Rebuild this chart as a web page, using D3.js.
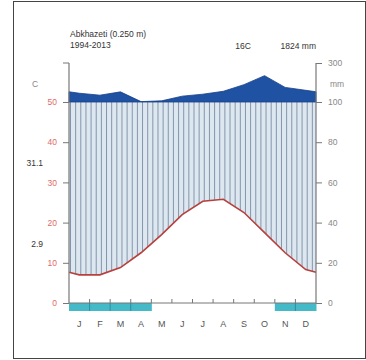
<!DOCTYPE html>
<html>
<head>
<meta charset="utf-8">
<script src="https://cdn.jsdelivr.net/npm/d3@7"></script>
<style>
  body { margin: 0; background: #fff; }
  svg { display: block; font-family: "Liberation Sans", Arial, sans-serif; }
</style>
</head>
<body>
<div id="chart"></div>
<script>
// climate diagram data (Walter-Lieth style)
var months = ['J', 'F', 'M', 'A', 'M', 'J', 'J', 'A', 'S', 'O', 'N', 'D'];
var temperature = [7.0, 7.0, 8.8, 12.5, 17, 22, 25.3, 25.8, 22.5, 17.5, 12.5, 8.3];
var precipitation = [145, 135, 152, 102, 106, 130, 140, 155, 189, 235, 175, 160];
var frost = [1, 1, 1, 1, 0, 0, 0, 0, 0, 0, 1, 1];
var tempTicks = [0, 10, 20, 30, 40, 50];
var precTicks = [0, 20, 40, 60, 80, 100, 300];
var station = 'Abkhazeti (0.250 m)';
var period = '1994-2013';
var meanTemp = '16C';
var totalPrec = '1824 mm';
var maxLabel = '31.1';
var minLabel = '2.9';

var width = 366, height = 360;
var plotL = 69, plotR = 316, plotT = 63, plotB = 303;

var svg = d3.select('#chart').append('svg')
  .attr('width', width)
  .attr('height', height);

// outer frame
svg.append('rect')
  .attr('x', 13.5).attr('y', 1.5)
  .attr('width', 352).attr('height', 357)
  .attr('fill', 'none').attr('stroke', '#444').attr('stroke-width', 1);

var x = d3.scaleLinear().domain([0, 12]).range([plotL, plotR]);
var yT = d3.scaleLinear().domain([0, 50]).range([plotB, 102]);
var yP = d3.scaleLinear().domain([0, 100, 300]).range([plotB, 102, plotT]);

// points at month centres, plus the two edges (mean of Dec/Jan)
var pts = months.map(function(m, i) {
  return { x: i + 0.5, t: temperature[i], p: precipitation[i] };
});
var edgeT = (temperature[0] + temperature[11]) / 2;
var edgeP = (precipitation[0] + precipitation[11]) / 2;
pts.unshift({ x: 0, t: edgeT, p: edgeP });
pts.push({ x: 12, t: edgeT, p: edgeP });

// humid period: between temperature and precipitation (capped at 100 mm)
var humid = d3.area()
  .x(function(d) { return x(d.x); })
  .y0(function(d) { return yT(d.t); })
  .y1(function(d) { return yP(Math.min(d.p, 100)); });

svg.append('clipPath').attr('id', 'humid')
  .append('path').attr('d', humid(pts));

var hatch = svg.append('g').attr('clip-path', 'url(#humid)');
hatch.append('rect')
  .attr('x', plotL).attr('y', plotT)
  .attr('width', plotR - plotL).attr('height', plotB - plotT)
  .attr('fill', '#dde7f0');
hatch.selectAll('line')
  .data(d3.range(0, 12, 0.25))
  .enter().append('line')
  .attr('x1', function(d) { return x(d) + 1.5; })
  .attr('x2', function(d) { return x(d) + 1.5; })
  .attr('y1', plotT).attr('y2', plotB)
  .attr('stroke', '#8495ab').attr('stroke-width', 1);

// precipitation above 100 mm
var wet = d3.area()
  .x(function(d) { return x(d.x); })
  .y0(yP(100))
  .y1(function(d) { return yP(Math.max(d.p, 100)); });

svg.append('path')
  .attr('d', wet(pts))
  .attr('fill', '#1f52a3')
  .attr('stroke', '#173f85').attr('stroke-width', 0.8);

// temperature line
var tline = d3.line()
  .x(function(d) { return x(d.x); })
  .y(function(d) { return yT(d.t); });

svg.append('path')
  .attr('d', tline(pts))
  .attr('fill', 'none')
  .attr('stroke', '#b8403c').attr('stroke-width', 1.6);

// frost bars under the axis
svg.selectAll('.frost')
  .data(frost.map(function(f, i) { return { f: f, i: i }; }).filter(function(d) { return d.f; }))
  .enter().append('rect')
  .attr('class', 'frost')
  .attr('x', function(d) { return x(d.i); })
  .attr('y', plotB)
  .attr('width', x(1) - x(0) + 0.5)
  .attr('height', 8)
  .attr('fill', '#44b9c8');

// axes
var axisCol = '#777';
var leftAxis = svg.append('g')
  .attr('transform', 'translate(' + plotL + ',0)')
  .call(d3.axisLeft(yT).tickValues(tempTicks).tickSize(6).tickPadding(6));
leftAxis.select('.domain').remove();
leftAxis.selectAll('line').attr('stroke', axisCol);
leftAxis.selectAll('text').attr('fill', '#e06a6a').attr('font-size', 8.5);

var rightAxis = svg.append('g')
  .attr('transform', 'translate(' + plotR + ',0)')
  .call(d3.axisRight(yP).tickValues(precTicks).tickSize(6).tickPadding(6));
rightAxis.select('.domain').remove();
rightAxis.selectAll('line').attr('stroke', axisCol);
rightAxis.selectAll('text').attr('fill', '#888').attr('font-size', 8.5);

svg.append('line')
  .attr('x1', plotL).attr('x2', plotL).attr('y1', plotT).attr('y2', plotB)
  .attr('stroke', axisCol).attr('stroke-width', 1.2);
svg.append('line')
  .attr('x1', plotL - 6).attr('x2', plotL).attr('y1', plotT).attr('y2', plotT)
  .attr('stroke', axisCol);
svg.append('line')
  .attr('x1', plotR).attr('x2', plotR).attr('y1', plotT).attr('y2', plotB)
  .attr('stroke', axisCol).attr('stroke-width', 1.2);
svg.append('line')
  .attr('x1', plotL).attr('x2', plotR).attr('y1', plotB).attr('y2', plotB)
  .attr('stroke', axisCol).attr('stroke-width', 1);

// month boundary ticks (darker inside frost bars)
svg.selectAll('.mtick')
  .data(d3.range(1, 12).filter(function(d) { return frost[d] && frost[d - 1]; }))
  .enter().append('line')
  .attr('class', 'mtick')
  .attr('x1', function(d) { return x(d); })
  .attr('x2', function(d) { return x(d); })
  .attr('y1', plotB).attr('y2', plotB + 8)
  .attr('stroke', '#2f7f8f').attr('stroke-opacity', 0.8);
svg.selectAll('.mtick2')
  .data(d3.range(1, 12))
  .enter().append('line')
  .attr('class', 'mtick2')
  .attr('x1', function(d) { return x(d); })
  .attr('x2', function(d) { return x(d); })
  .attr('y1', plotB - 4).attr('y2', plotB)
  .attr('stroke', axisCol);

// month labels
svg.selectAll('.mlab')
  .data(months)
  .enter().append('text')
  .attr('class', 'mlab')
  .attr('x', function(d, i) { return x(i + 0.5); })
  .attr('y', 327)
  .attr('text-anchor', 'middle')
  .attr('font-size', 9)
  .attr('fill', '#555')
  .text(function(d) { return d; });

// header texts
svg.append('text').attr('x', 70).attr('y', 37).attr('font-size', 8.5).attr('fill', '#333').text(station);
svg.append('text').attr('x', 70).attr('y', 48).attr('font-size', 8.5).attr('fill', '#333').text(period);
svg.append('text').attr('x', 243).attr('y', 49).attr('text-anchor', 'middle').attr('font-size', 8.5).attr('fill', '#333').text(meanTemp);
svg.append('text').attr('x', 316).attr('y', 49).attr('text-anchor', 'end').attr('font-size', 8.5).attr('fill', '#333').text(totalPrec);

// unit and extreme labels
svg.append('text').attr('x', 35).attr('y', 87).attr('text-anchor', 'middle').attr('font-size', 8.5).attr('fill', '#888').text('C');
svg.append('text').attr('x', 330).attr('y', 87).attr('font-size', 8.5).attr('fill', '#888').text('mm');
svg.append('text').attr('x', 43).attr('y', 166).attr('text-anchor', 'end').attr('font-size', 8.5).attr('fill', '#333').text(maxLabel);
svg.append('text').attr('x', 43).attr('y', 247).attr('text-anchor', 'end').attr('font-size', 8.5).attr('fill', '#333').text(minLabel);
</script>
</body>
</html>
